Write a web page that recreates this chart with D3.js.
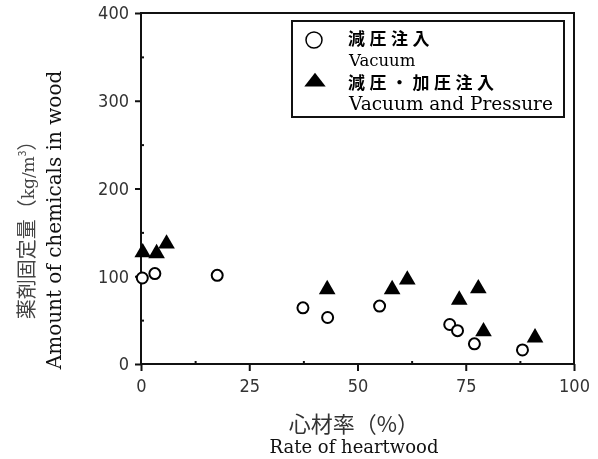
<!DOCTYPE html>
<html>
<head>
<meta charset="utf-8">
<script src="https://cdn.jsdelivr.net/npm/d3@7"></script>
<style>
  body { margin: 0; background: #fff; }
  svg { will-change: transform; }
  .tick text { font-family: "Liberation Sans Narrow", "DejaVu Sans Condensed", sans-serif; font-size: 18px; fill: #333; }
  .serif { font-family: "DejaVu Serif", "Liberation Serif", serif; }
  .cjk { font-family: "Noto Sans CJK JP", sans-serif; }
</style>
</head>
<body>
<div id="chart"></div>
<script>
const vacuumX = [0.3, 3.2, 17.6, 37.4, 43.1, 55.1, 71.3, 73.1, 77.0, 88.1];
const vacuumY = [98, 103, 101, 64, 53, 66, 45, 38, 23, 16];
const pressureX = [0.4, 3.6, 5.9, 43.0, 58.0, 61.5, 73.5, 77.9, 79.1, 91.0];
const pressureY = [127, 126, 137, 85, 85, 96, 73, 86, 37, 30];
const xTicks = [0, 25, 50, 75, 100];
const yTicks = [0, 100, 200, 300, 400];

const width = 598, height = 459;
const margin = { top: 13, right: 24, bottom: 95, left: 141 };

const svg = d3.select("#chart").append("svg")
  .attr("width", width)
  .attr("height", height);

const x = d3.scaleLinear().domain([0, 100]).range([margin.left, width - margin.right]);
const y = d3.scaleLinear().domain([0, 400]).range([height - margin.bottom, margin.top]);

// frame
svg.append("rect")
  .attr("x", x(0)).attr("y", y(400))
  .attr("width", x(100) - x(0)).attr("height", y(0) - y(400))
  .attr("fill", "none").attr("stroke", "#111").attr("stroke-width", 2);

// x axis, major ticks outward, minor inward
const xAxis = svg.append("g")
  .attr("transform", `translate(0,${y(0)})`)
  .call(d3.axisBottom(x).tickValues(xTicks).tickSize(7).tickPadding(8));
xAxis.select(".domain").remove();
xAxis.selectAll("line").attr("stroke-width", 2).attr("stroke", "#111");

svg.append("g")
  .attr("transform", `translate(0,${y(0)})`)
  .call(d3.axisTop(x).tickValues([12.5, 37.5, 62.5, 87.5]).tickSize(3).tickFormat(""))
  .call(g => g.select(".domain").remove())
  .selectAll("line").attr("stroke-width", 2).attr("stroke", "#111");

const yAxis = svg.append("g")
  .attr("transform", `translate(${x(0)},0)`)
  .call(d3.axisLeft(y).tickValues(yTicks).tickSize(6).tickPadding(6));
yAxis.select(".domain").remove();
yAxis.selectAll("line").attr("stroke-width", 2).attr("stroke", "#111");

svg.append("g")
  .attr("transform", `translate(${x(0)},0)`)
  .call(d3.axisRight(y).tickValues([50, 150, 250, 350]).tickSize(3).tickFormat(""))
  .call(g => g.select(".domain").remove())
  .selectAll("line").attr("stroke-width", 2).attr("stroke", "#111");

// axis titles
svg.append("text").attr("class", "cjk")
  .attr("x", 354).attr("y", 432)
  .attr("text-anchor", "middle").attr("font-size", 22).attr("fill", "#333")
  .text("心材率（%）");
svg.append("text").attr("class", "serif")
  .attr("x", 354).attr("y", 453)
  .attr("text-anchor", "middle").attr("font-size", 18).attr("fill", "#111")
  .text("Rate of heartwood");

svg.append("text").attr("class", "serif")
  .attr("transform", "translate(61,220) rotate(-90)")
  .attr("text-anchor", "middle").attr("font-size", 20).attr("fill", "#111")
  .text("Amount of chemicals in wood");
const jpTitle = svg.append("text").attr("class", "cjk")
  .attr("transform", "translate(34,225) rotate(-90)")
  .attr("text-anchor", "middle").attr("font-size", 20).attr("fill", "#444");
jpTitle.append("tspan").text("薬剤固定量（");
jpTitle.append("tspan").attr("class", "serif").attr("font-size", 17).text("kg/m");
jpTitle.append("tspan").attr("font-size", 10).attr("dy", -8).text("3");
jpTitle.append("tspan").attr("dy", 8).text("）");

// points
const vacuum = vacuumX.map((d, i) => ({ x: d, y: vacuumY[i] }));
const pressure = pressureX.map((d, i) => ({ x: d, y: pressureY[i] }));

svg.append("g").selectAll("path")
  .data(pressure)
  .enter().append("path")
  .attr("d", d3.symbol(d3.symbolTriangle).size(120))
  .attr("transform", d => `translate(${x(d.x)},${y(d.y)})`)
  .attr("fill", "#000");

svg.append("g").selectAll("circle")
  .data(vacuum)
  .enter().append("circle")
  .attr("cx", d => x(d.x))
  .attr("cy", d => y(d.y))
  .attr("r", 5.5)
  .attr("fill", "#fff")
  .attr("stroke", "#000")
  .attr("stroke-width", 2);

// legend
const legend = svg.append("g");
legend.append("rect")
  .attr("x", 292).attr("y", 21).attr("width", 272).attr("height", 96)
  .attr("fill", "#fff").attr("stroke", "#111").attr("stroke-width", 2);
legend.append("circle")
  .attr("cx", 314).attr("cy", 40).attr("r", 8)
  .attr("fill", "#fff").attr("stroke", "#000").attr("stroke-width", 1.5);
legend.append("path")
  .attr("d", d3.symbol(d3.symbolTriangle).size(150))
  .attr("transform", "translate(315,82) scale(1.15,0.85)");
legend.append("text").attr("class", "cjk")
  .attr("x", 348).attr("y", 45).attr("font-size", 17).attr("font-weight", "bold")
  .attr("letter-spacing", 4.5)
  .text("減圧注入");
legend.append("text").attr("class", "serif")
  .attr("x", 349).attr("y", 66).attr("font-size", 16.5)
  .text("Vacuum");
legend.append("text").attr("class", "cjk")
  .attr("x", 348).attr("y", 89).attr("font-size", 17).attr("font-weight", "bold")
  .attr("letter-spacing", 4.5)
  .text("減圧・加圧注入");
legend.append("text").attr("class", "serif")
  .attr("x", 349).attr("y", 110).attr("font-size", 18.5)
  .text("Vacuum and Pressure");
</script>
</body>
</html>
